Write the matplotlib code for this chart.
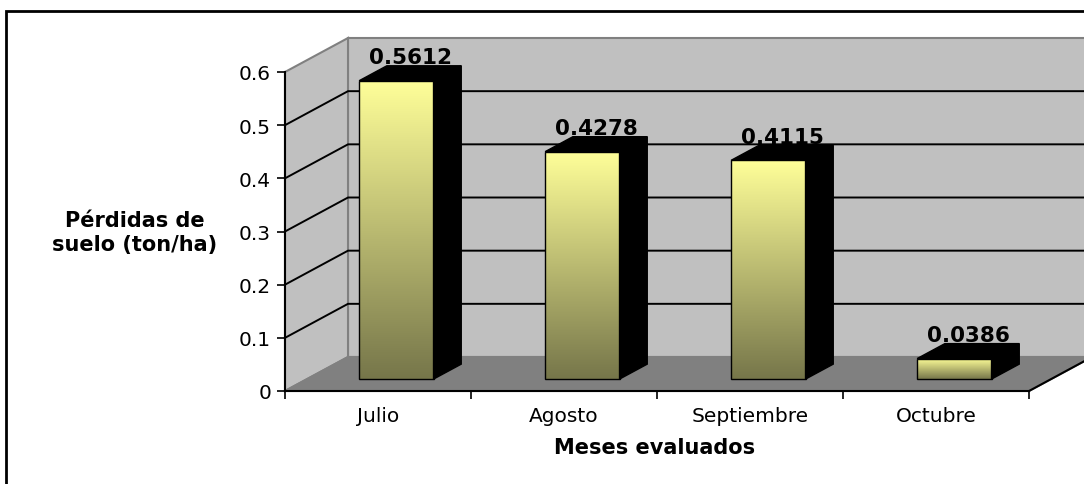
import numpy as np
import matplotlib
matplotlib.use("Agg")
import matplotlib.pyplot as plt
from matplotlib.patches import Polygon, Rectangle
from matplotlib.colors import LinearSegmentedColormap

# monthly soil loss (ton/ha)
meses = ["Julio", "Agosto", "Septiembre", "Octubre"]
perdidas = [0.5612, 0.4278, 0.4115, 0.0386]
yticks = [0, 0.1, 0.2, 0.3, 0.4, 0.5, 0.6]

plt.rcParams['font.family'] = ['DejaVu Sans']

fig = plt.figure(figsize=(10.84, 4.85), dpi=100)
ax = fig.add_axes([285 / 1084, 93 / 485, 744 / 1084, 319 / 485])
ax.patch.set_visible(False)

n = len(meses)
ymax = yticks[-1]
ax.set_xlim(0, n)
ax.set_ylim(0, ymax)

# oblique depth of the box (data units)
DX = 63 / (744 / n)
DY = 34 / (319 / ymax)

pared = '#c0c0c0'
borde = '#808080'

# back wall, side wall, floor
ax.add_patch(Polygon([(DX, DY), (n + DX, DY), (n + DX, ymax + DY), (DX, ymax + DY)],
                     fc=pared, ec=borde, lw=1.5, clip_on=False, zorder=0))
ax.add_patch(Polygon([(0, 0), (DX, DY), (DX, ymax + DY), (0, ymax)],
                     fc=pared, ec=borde, lw=1.5, clip_on=False, zorder=0))
ax.add_patch(Polygon([(0, 0), (n, 0), (n + DX, DY), (DX, DY)],
                     fc='#808080', ec=borde, lw=1.5, clip_on=False, zorder=0.5))
ax.plot([n, n + DX], [0, DY], color='black', lw=1.5, clip_on=False, zorder=1)

for t in yticks[1:-1]:
    ax.plot([0, DX, n + DX], [t, t + DY, t + DY], color='black', lw=1.4,
            clip_on=False, zorder=1)

# bars with gradient front face and black top/side
f0, f1 = 0.35, 0.79
ancho = 0.40
ddx = (f1 - f0) * DX
ddy = (f1 - f0) * DY
cmap = LinearSegmentedColormap.from_list('oliva', ['#76764a', '#ffff99'])
grad = np.linspace(0, 1, 256).reshape(-1, 1)

for i, v in enumerate(perdidas):
    x0 = i + 0.28 + f0 * DX
    x1 = x0 + ancho
    yb = f0 * DY
    yt = v + f0 * DY
    ax.imshow(grad, extent=(x0, x1, yb, yt), origin='lower', cmap=cmap,
              aspect='auto', interpolation='bilinear', zorder=3)
    ax.add_patch(Rectangle((x0, yb), ancho, v, fill=False, ec='black', lw=1,
                           zorder=4))
    ax.add_patch(Polygon([(x0, yt), (x1, yt), (x1 + ddx, yt + ddy), (x0 + ddx, yt + ddy)],
                         fc='black', ec='black', lw=1, zorder=4, clip_on=False))
    ax.add_patch(Polygon([(x1, yb), (x1, yt), (x1 + ddx, yt + ddy), (x1 + ddx, yb + ddy)],
                         fc='black', ec='black', lw=1, zorder=4, clip_on=False))
    ax.annotate(f'{v:.4f}', ((x0 + x1) / 2 + ddx / 2, yt + ddy), xytext=(0, 2),
                textcoords='offset points', ha='center', va='baseline',
                fontsize=15.5, fontweight='bold', zorder=6, annotation_clip=False)

ax.set_xlim(0, n)
ax.set_ylim(0, ymax)

ax.set_yticks(yticks)
ax.set_yticklabels([f'{t:g}' for t in yticks])
ax.set_xticks(range(n + 1))
ax.set_xticklabels([''] * (n + 1))
ax.set_xticks([i + 0.5 for i in range(n)], minor=True)
ax.set_xticklabels(meses, minor=True)

ax.tick_params(axis='y', direction='out', length=6, width=1.2, labelsize=14.5, pad=4)
ax.tick_params(axis='x', which='major', direction='out', length=6, width=1.2)
ax.tick_params(axis='x', which='minor', length=0, labelsize=14.5, pad=11)

for s in ['top', 'right']:
    ax.spines[s].set_visible(False)
for s in ['left', 'bottom']:
    ax.spines[s].set_linewidth(1.5)
    ax.spines[s].set_color('black')

ax.set_ylabel('Pérdidas de\nsuelo (ton/ha)', rotation=0, fontsize=15,
              fontweight='bold', ha='center', va='center', multialignment='center')
ax.yaxis.set_label_coords((135 - 285) / 744, (392 - 233) / 319)
ax.set_xlabel('Meses evaluados', fontsize=15, fontweight='bold', va='center')
ax.xaxis.set_label_coords((655 - 285) / 744, (392 - 448) / 319)

# chart frame
fig.patches.append(Rectangle((6 / 1084, -0.1), 1.2, 0.1 + 1 - 12 / 485,
                             transform=fig.transFigure, fill=False, ec='black',
                             lw=2, zorder=10))

fig.savefig('out.png', dpi=100)
